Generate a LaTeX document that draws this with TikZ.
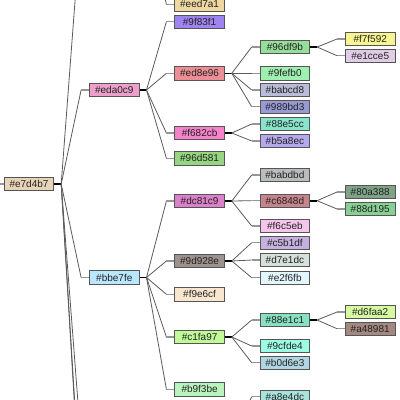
\documentclass[tikz,border=0pt]{standalone}
\usepackage{fontspec}
\setmainfont{Liberation Sans}
\begin{document}
\begin{tikzpicture}[x=1pt,y=-1pt,
  box/.style={draw={rgb,255:red,85;green,85;blue,85},line width=0.9pt,minimum width=49.5pt,minimum height=13.5pt,inner sep=0pt,font=\fontsize{10}{12}\selectfont,text={rgb,255:red,34;green,34;blue,34}},
  linkc/.style={draw={rgb,255:red,90;green,90;blue,90},line width=0.8pt},
  stubc/.style={draw={rgb,255:red,150;green,150;blue,150},line width=1.5pt},
  pstub/.style={draw=black,line width=1.6pt}]
\useasboundingbox (0,0) rectangle (400,400);
\clip (0,0) rectangle (400,400);
\newcommand\mk[4]{\definecolor{fc#1}{HTML}{#4}\node[box,fill=fc#1] (n#1) at (#2,#3) {\##1};}
\def\ca{29}\def\cb{114.3}\def\cc{199.6}\def\cd{284.9}\def\ce{370.2}
\mk{e7d4b7}{\ca}{184}{E7D4B7}
\mk{eda0c9}{\cb}{90}{EDA0C9}
\mk{bbe7fe}{\cb}{277.5}{BBE7FE}
\mk{eed7a1}{\cc}{4.3}{EED7A1}
\mk{9f83f1}{\cc}{21.7}{9F83F1}
\mk{ed8e96}{\cc}{73.3}{ED8E96}
\mk{f682cb}{\cc}{133}{F682CB}
\mk{96d581}{\cc}{158.3}{96D581}
\mk{dc81c9}{\cc}{201}{DC81C9}
\mk{9d928e}{\cc}{261}{9D928E}
\mk{f9e6cf}{\cc}{294.3}{F9E6CF}
\mk{c1fa97}{\cc}{337}{C1FA97}
\mk{b9f3be}{\cc}{389.3}{B9F3BE}
\mk{96df9b}{\cd}{47}{96DF9B}
\mk{9fefb0}{\cd}{73.3}{9FEFB0}
\mk{babcd8}{\cd}{90}{BABCD8}
\mk{989bd3}{\cd}{106.7}{989BD3}
\mk{88e5cc}{\cd}{124}{88E5CC}
\mk{b5a8ec}{\cd}{141}{B5A8EC}
\mk{babdbd}{\cd}{175}{BABDBD}
\mk{c6848d}{\cd}{200.7}{C6848D}
\mk{f6c5eb}{\cd}{226}{F6C5EB}
\mk{c5b1df}{\cd}{242.7}{C5B1DF}
\mk{d7e1dc}{\cd}{260}{D7E1DC}
\mk{e2f6fb}{\cd}{277.7}{E2F6FB}
\mk{88e1c1}{\cd}{320}{88E1C1}
\mk{9cfde4}{\cd}{346}{9CFDE4}
\mk{b0d6e3}{\cd}{362.7}{B0D6E3}
\mk{a8e4dc}{\cd}{396.7}{A8E4DC}
\mk{f7f592}{\ce}{39}{F7F592}
\mk{e1cce5}{\ce}{55.7}{E1CCE5}
\mk{80a388}{\ce}{192}{80A388}
\mk{88d195}{\ce}{209}{88D195}
\mk{d6faa2}{\ce}{312}{D6FAA2}
\mk{a48981}{\ce}{328.7}{A48981}
% off-picture ends
\coordinate (jtop) at (146.05,-80);
\coordinate (stop) at (81.55,-85);
\coordinate (sleft) at (-4,184);
\coordinate (sbotA) at (81.55,512);
\coordinate (sbotB) at (81.55,522);
\coordinate (sbotC) at (81.55,449);
\coordinate (jbot) at (231.35,440);
\newcommand\pj[1]{\coordinate (j#1) at ([xshift=7pt]n#1.east);\draw[pstub] (n#1.east) -- (j#1);}
\newcommand\lk[2]{\coordinate (s#2) at ([xshift=-8pt]n#2.west);\draw[linkc] (j#1) -- (s#2);\draw[stubc] (s#2) -- (n#2.west);}
\pj{e7d4b7}\pj{eda0c9}\pj{bbe7fe}\pj{ed8e96}\pj{f682cb}\pj{dc81c9}\pj{9d928e}\pj{c1fa97}\pj{96df9b}\pj{c6848d}\pj{88e1c1}
\draw[stubc] (sleft) -- (ne7d4b7.west);
\draw[linkc] (je7d4b7) -- (stop);
\draw[linkc] (je7d4b7) -- (sbotA);
\draw[linkc] (je7d4b7) -- (sbotB);
\draw[linkc] (je7d4b7) -- (sbotC);
\lk{e7d4b7}{eda0c9}\lk{e7d4b7}{bbe7fe}
\lk{top}{eed7a1}
\lk{eda0c9}{9f83f1}\lk{eda0c9}{ed8e96}\lk{eda0c9}{f682cb}\lk{eda0c9}{96d581}
\lk{bbe7fe}{dc81c9}\lk{bbe7fe}{9d928e}\lk{bbe7fe}{f9e6cf}\lk{bbe7fe}{c1fa97}\lk{bbe7fe}{b9f3be}
\lk{ed8e96}{96df9b}\lk{ed8e96}{9fefb0}\lk{ed8e96}{babcd8}\lk{ed8e96}{989bd3}
\lk{f682cb}{88e5cc}\lk{f682cb}{b5a8ec}
\lk{dc81c9}{babdbd}\lk{dc81c9}{c6848d}\lk{dc81c9}{f6c5eb}
\lk{9d928e}{c5b1df}\lk{9d928e}{d7e1dc}\lk{9d928e}{e2f6fb}
\lk{c1fa97}{88e1c1}\lk{c1fa97}{9cfde4}\lk{c1fa97}{b0d6e3}
\lk{bot}{a8e4dc}
\lk{96df9b}{f7f592}\lk{96df9b}{e1cce5}
\lk{c6848d}{80a388}\lk{c6848d}{88d195}
\lk{88e1c1}{d6faa2}\lk{88e1c1}{a48981}
\end{tikzpicture}
\end{document}
